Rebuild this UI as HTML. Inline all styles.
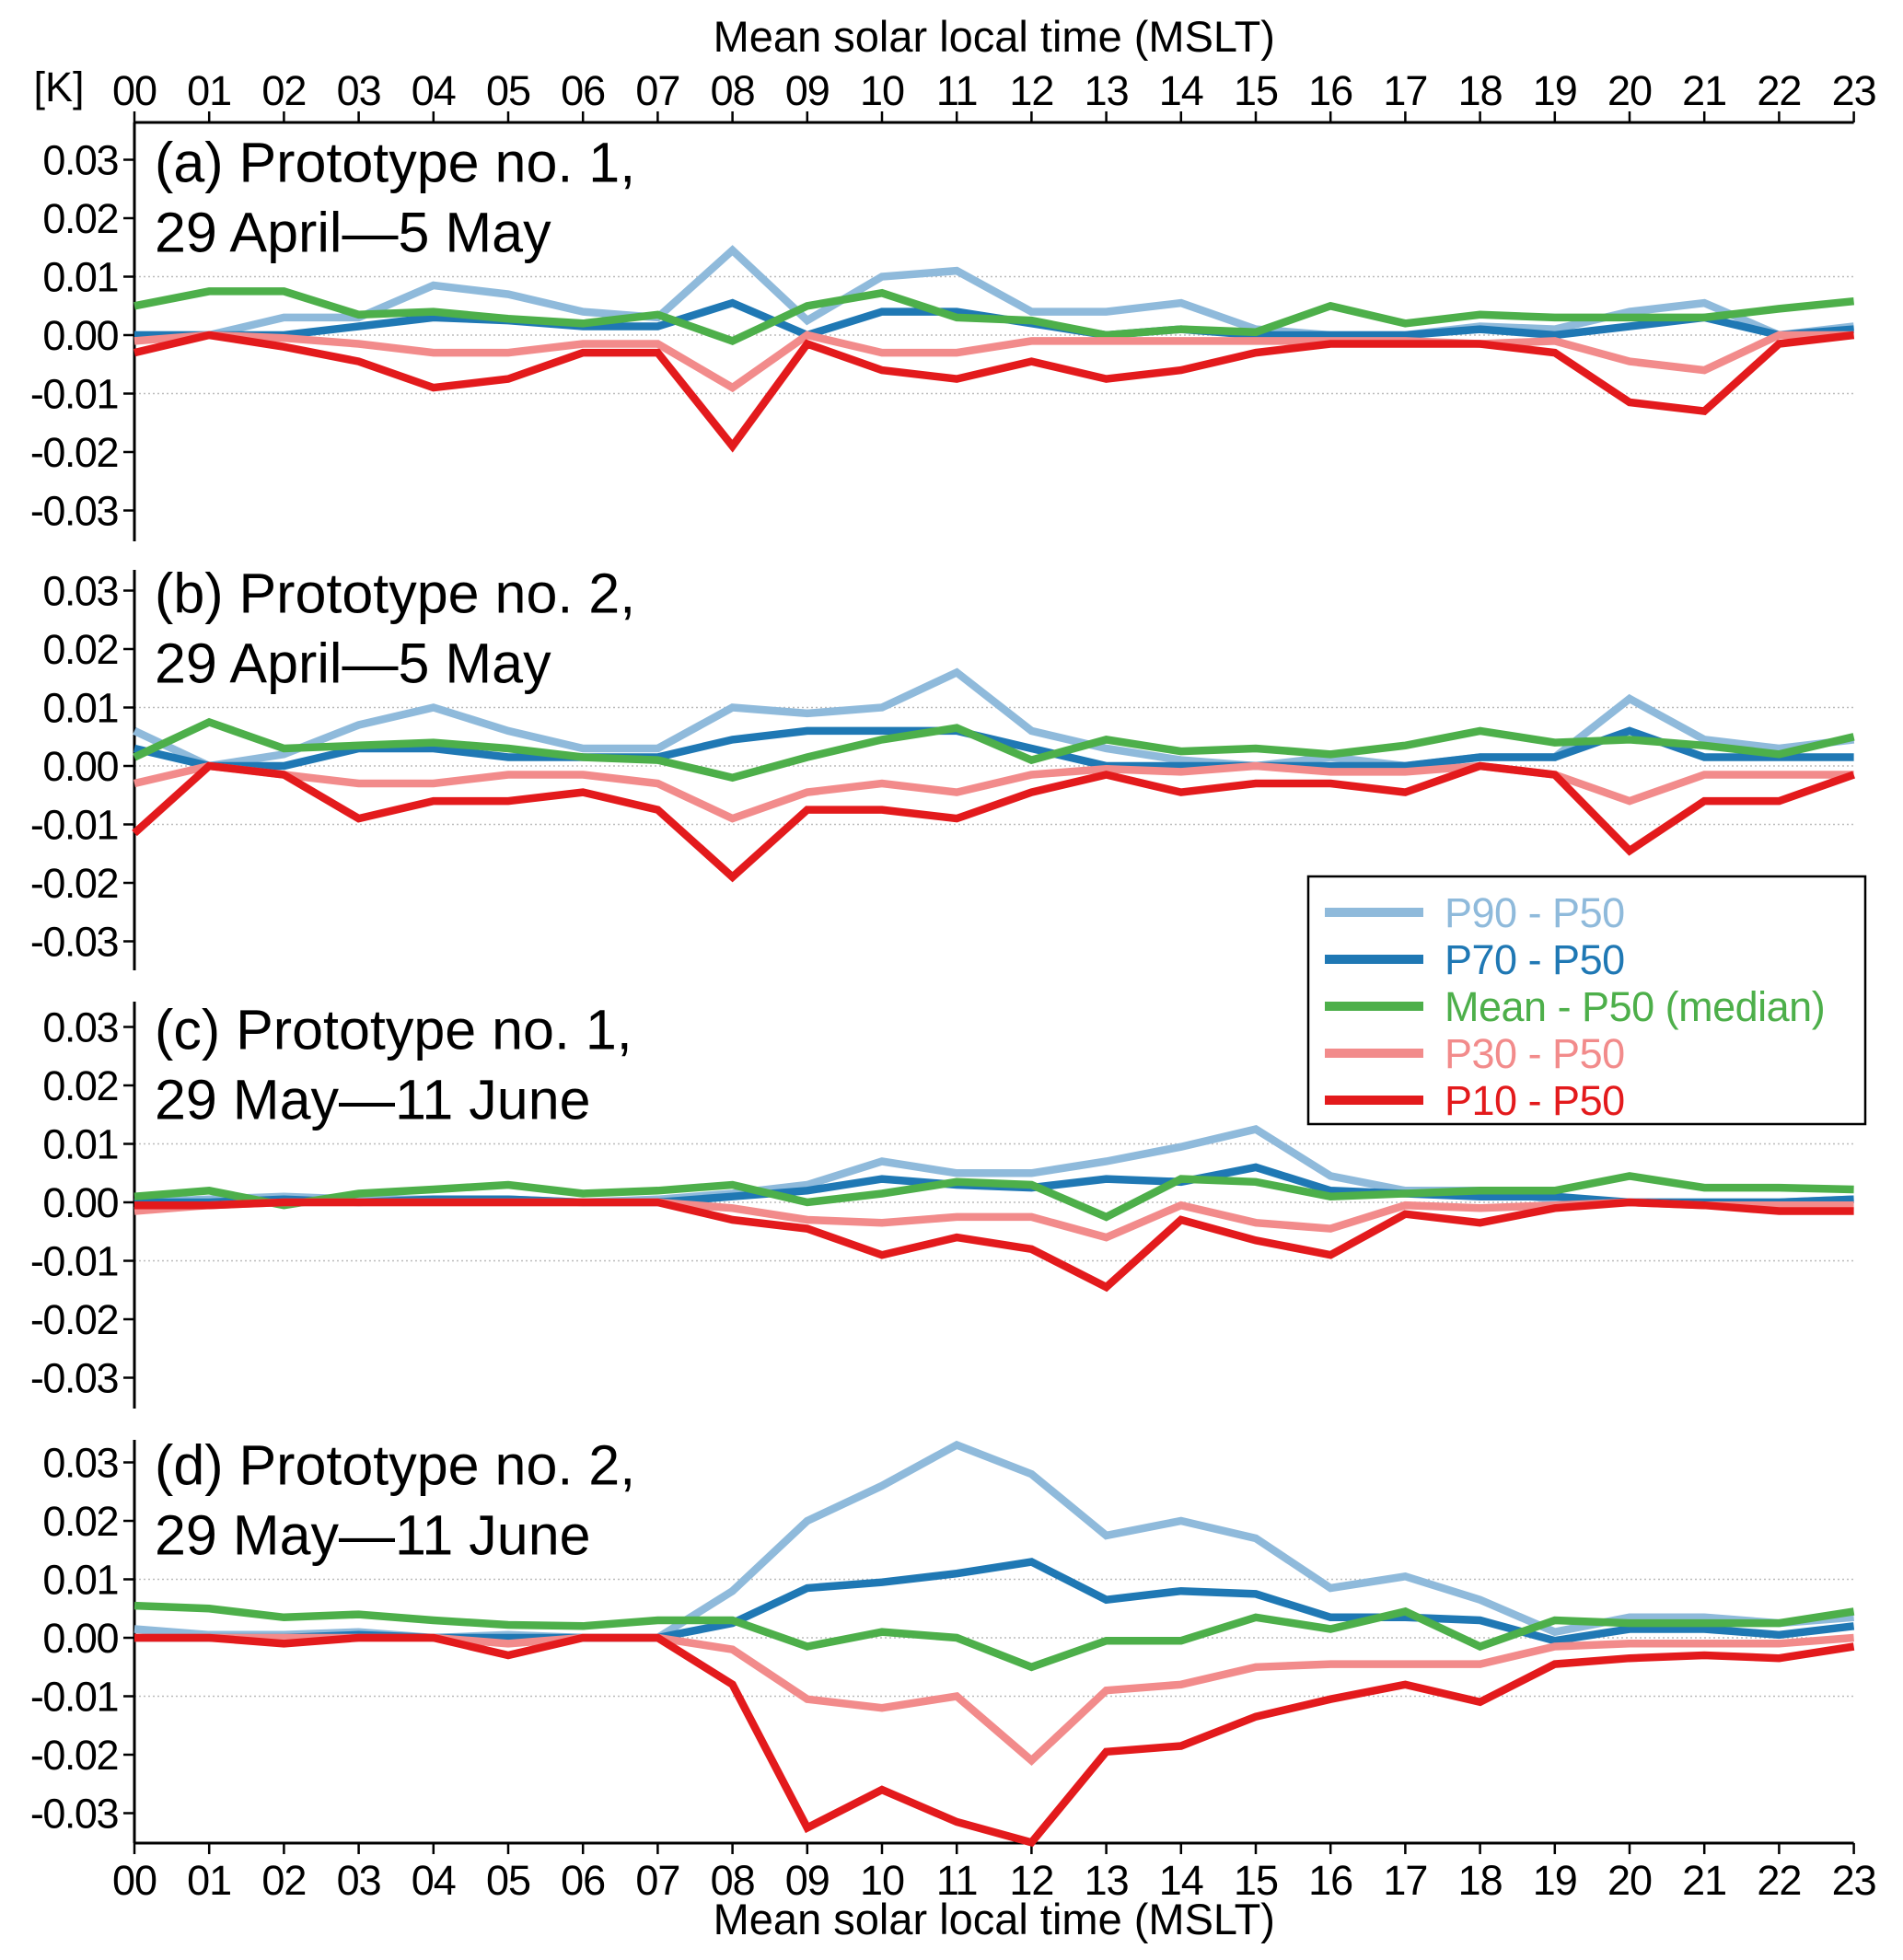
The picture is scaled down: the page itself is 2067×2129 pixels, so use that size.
<!DOCTYPE html>
<html><head><meta charset="utf-8"><style>
html,body{margin:0;padding:0;background:#fff;}
svg{display:block;font-family:"Liberation Sans",sans-serif;}
</style></head><body>
<svg id="chart" width="2067" height="2129" viewBox="0 0 2067 2129"></svg>
<script>
const hours = ["00","01","02","03","04","05","06","07","08","09","10","11","12","13","14","15","16","17","18","19","20","21","22","23"];
const yTicks = [0.03,0.02,0.01,0.00,-0.01,-0.02,-0.03];
const yTickLabels = ["0.03","0.02","0.01","0.00","-0.01","-0.02","-0.03"];
const seriesNames = ["P90 - P50","P70 - P50","Mean - P50 (median)","P30 - P50","P10 - P50"];
const panelTitles1 = ["(a) Prototype no.  1,","(b) Prototype no. 2,","(c) Prototype no.  1,","(d) Prototype no. 2,"];
const panelTitles2 = ["29 April\u20145 May","29 April\u20145 May","29 May\u201411 June","29 May\u201411 June"];

const aP90=[0,0,.003,.003,.0085,.007,.004,.003,.0145,.0025,.010,.011,.004,.004,.0055,.001,0,0,.0015,.001,.004,.0055,0,.0015];
const aP70=[0,0,0,.0015,.003,.0025,.0015,.0015,.0055,0,.004,.004,.002,0,.001,0,0,0,.001,0,.0015,.003,0,.001];
const aMean=[.005,.0075,.0075,.0035,.004,.0028,.002,.0035,-.001,.005,.0072,.003,.0025,0,.001,.0005,.005,.002,.0035,.003,.003,.003,.0045,.0058];
const aP30=[-.001,0,-.0005,-.0015,-.003,-.003,-.0015,-.0015,-.009,0,-.003,-.003,-.001,-.001,-.001,-.001,-.001,-.001,-.0015,-.001,-.0045,-.006,0,0];
const aP10=[-.003,0,-.002,-.0045,-.009,-.0075,-.003,-.003,-.019,-.0015,-.006,-.0075,-.0045,-.0075,-.006,-.003,-.0015,-.0015,-.0015,-.003,-.0115,-.013,-.0015,0];

const bP90=[.006,0,.002,.007,.010,.006,.003,.003,.010,.009,.010,.016,.006,.003,.001,0,.0015,0,.0015,.0015,.0115,.0045,.003,.0045];
const bP70=[.003,0,0,.003,.003,.0015,.0015,.0015,.0045,.006,.006,.006,.003,0,0,0,0,0,.0015,.0015,.006,.0015,.0015,.0015];
const bMean=[.0015,.0075,.003,.0035,.004,.003,.0015,.001,-.002,.0015,.0045,.0065,.001,.0045,.0025,.003,.002,.0035,.006,.004,.0045,.0035,.002,.005];
const bP30=[-.003,0,-.0015,-.003,-.003,-.0015,-.0015,-.003,-.009,-.0045,-.003,-.0045,-.0015,-.0005,-.001,0,-.001,-.001,0,-.0015,-.006,-.0015,-.0015,-.0015];
const bP10=[-.0115,0,-.0015,-.009,-.006,-.006,-.0045,-.0075,-.019,-.0075,-.0075,-.009,-.0045,-.0015,-.0045,-.003,-.003,-.0045,0,-.0015,-.0145,-.006,-.006,-.0015];

const cP90=[0,.0005,.001,.0005,.0005,.0005,0,.0005,.0015,.003,.007,.005,.005,.007,.0095,.0125,.0045,.002,.002,.0005,0,0,0,.0005];
const cP70=[0,0,.0005,0,.0005,.0005,0,0,.001,.002,.004,.003,.0025,.004,.0035,.006,.002,.0015,.001,.001,0,0,0,.0005];
const cMean=[.001,.002,-.0005,.0015,.0022,.003,.0015,.002,.003,0,.0015,.0035,.003,-.0025,.004,.0035,.001,.0015,.002,.002,.0045,.0025,.0025,.0022];
const cP30=[-.0015,-.0005,0,0,0,0,0,0,-.001,-.003,-.0035,-.0025,-.0025,-.006,-.0005,-.0035,-.0045,-.0005,-.001,-.0005,0,-.0005,-.0005,-.0005];
const cP10=[-.0005,-.0005,0,0,0,0,0,0,-.003,-.0045,-.009,-.006,-.008,-.0145,-.003,-.0065,-.009,-.002,-.0035,-.001,0,-.0005,-.0015,-.0015];

const dP90=[.0015,.0005,.0005,.001,0,.0005,0,0,.008,.020,.026,.033,.028,.0175,.020,.017,.0085,.0105,.0065,.001,.0035,.0035,.0025,.0035];
const dP70=[0,0,0,.0005,0,0,0,0,.0025,.0085,.0095,.011,.013,.0065,.008,.0075,.0035,.0035,.003,-.0005,.0015,.0015,.0005,.002];
const dMean=[.0055,.005,.0035,.004,.003,.0022,.002,.003,.003,-.0015,.001,0,-.005,-.0005,-.0005,.0035,.0015,.0045,-.0015,.003,.0025,.0025,.0025,.0045];
const dP30=[0,0,0,0,0,-.001,0,0,-.002,-.0105,-.012,-.010,-.021,-.009,-.008,-.005,-.0045,-.0045,-.0045,-.0015,-.001,-.001,-.001,0];
const dP10=[0,0,-.001,0,0,-.003,0,0,-.008,-.0325,-.026,-.0315,-.035,-.0195,-.0185,-.0135,-.0105,-.008,-.011,-.0045,-.0035,-.003,-.0035,-.0015];

const panelData=[[aP90,aP70,aMean,aP30,aP10],[bP90,bP70,bMean,bP30,bP10],[cP90,cP70,cMean,cP30,cP10],[dP90,dP70,dMean,dP30,dP10]];
const colors=["#8fbadb","#1f78b4","#4daf4a","#f28b8b","#e31a1c"];
const panelIds=["a","b","c","d"];

const svg=document.getElementById('chart');
const NS="http://www.w3.org/2000/svg";
function mk(tag,attrs,parent){const e=document.createElementNS(NS,tag);for(const k in attrs)e.setAttribute(k,attrs[k]);(parent||svg).appendChild(e);return e;}
const X0=146,DX=81.2;
const xS=i=>X0+i*DX;
const zeros=[364,832,1306,1779];
const PER=6350;
const yS=(p,v)=>zeros[p]-v*PER;
const axTop=[133,619,1088,1564], axBot=[588,1054,1530,2002];
const XR=xS(23);

let t=mk('text',{x:(X0+XR)/2,y:56,'font-size':47,'text-anchor':'middle'});
t.textContent="Mean solar local time (MSLT)";
t=mk('text',{x:64,y:110,'font-size':45,'text-anchor':'middle'});
t.textContent="[K]";
let l=mk('line',{x1:X0,x2:XR,y1:133,y2:133,stroke:'#000','stroke-width':3});

l=mk('line',{x1:X0,x2:XR,y1:2002,y2:2002,stroke:'#000','stroke-width':3});

hours.forEach((h,i)=>{
  let tk=mk('line',{x1:xS(i),x2:xS(i),y1:133,y2:121,stroke:'#000','stroke-width':2.5});
  
  let tx=mk('text',{x:xS(i),y:114,'font-size':45,'text-anchor':'middle','letter-spacing':-1});
  tx.textContent=h;
  tk=mk('line',{x1:xS(i),x2:xS(i),y1:2002,y2:2014,stroke:'#000','stroke-width':2.5});
  
  tx=mk('text',{x:xS(i),y:2058,'font-size':45,'text-anchor':'middle','letter-spacing':-1});
  tx.textContent=h;
});
t=mk('text',{x:(X0+XR)/2,y:2101,'font-size':47,'text-anchor':'middle'});
t.textContent="Mean solar local time (MSLT)";

for(let p=0;p<4;p++){
  const g=mk('g',{});
  
  [0.01,0,-0.01].forEach(v=>{
    const gl=mk('line',{x1:X0,x2:XR,y1:yS(p,v),y2:yS(p,v),stroke:'#bbb','stroke-width':1.5,'stroke-dasharray':'2,3'},g);
    
  });
  const ax=mk('line',{x1:X0,x2:X0,y1:axTop[p],y2:axBot[p],stroke:'#000','stroke-width':3},g);
  
  yTicks.forEach((v,k)=>{
    const tk=mk('line',{x1:X0-12,x2:X0,y1:yS(p,v),y2:yS(p,v),stroke:'#000','stroke-width':2.5},g);
    
    const tx=mk('text',{x:X0-18,y:yS(p,v)+16,'font-size':45,'text-anchor':'end','letter-spacing':-1.5},g);
    tx.textContent=yTickLabels[k];
  });
  panelData[p].forEach((arr,s)=>{
    const pts=arr.map((v,i)=>xS(i).toFixed(1)+','+yS(p,v).toFixed(1)).join(' ');
    const pl=mk('polyline',{points:pts,fill:'none',stroke:colors[s],'stroke-width':8.5,'stroke-linejoin':'miter'},g);
    
  });
  let tt=mk('text',{x:168,y:yS(p,0.03)+24,'font-size':61},g);
  tt.textContent=panelTitles1[p];
  tt=mk('text',{x:168,y:yS(p,0.03)+100,'font-size':61},g);
  tt.textContent=panelTitles2[p];
}

const lg=mk('g',{});

const box=mk('rect',{x:1421,y:952,width:605,height:269,fill:'#fff',stroke:'#000','stroke-width':2.5},lg);

seriesNames.forEach((n,s)=>{
  const y=991+s*51;
  const ln=mk('line',{x1:1439,x2:1546,y1:y,y2:y,stroke:colors[s],'stroke-width':10},lg);
  
  const tx=mk('text',{x:1569,y:y+16,'font-size':45,fill:colors[s],'letter-spacing':-0.5},lg);
  tx.textContent=n;
});
</script>
</body></html>
